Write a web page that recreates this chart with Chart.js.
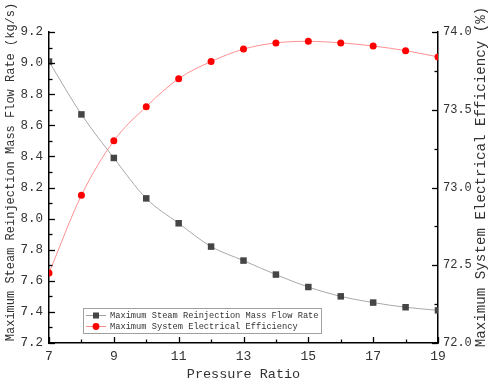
<!DOCTYPE html>
<html>
<head>
<meta charset="utf-8">
<script src="https://cdn.jsdelivr.net/npm/chart.js@4/dist/chart.umd.min.js"></script>
<style>
  html, body { margin: 0; padding: 0; background: #fff; }
  #wrap { width: 491px; height: 383px; position: relative; }
</style>
</head>
<body>
<div id="wrap"><canvas id="c" width="491" height="383"></canvas></div>
<script>
const pressureRatio = [7, 8, 9, 10, 11, 12, 13, 14, 15, 16, 17, 18, 19];
const steamFlow = [9.01, 8.67, 8.39, 8.13, 7.97, 7.82, 7.73, 7.64, 7.56, 7.50, 7.46, 7.43, 7.41];
const efficiency = [72.45, 72.95, 73.30, 73.52, 73.70, 73.81, 73.89, 73.93, 73.94, 73.93, 73.91, 73.88, 73.84];
const steamLabel = 'Maximum Steam Reinjection Mass Flow Rate';
const effLabel = 'Maximum System Electrical Efficiency';
const leftTitle = 'Maximum Steam Reinjection Mass Flow Rate (kg/s)';
const rightTitle = 'Maximum System Electrical Efficiency (%)';
const xTitle = 'Pressure Ratio';

const FONT = "'Liberation Mono', 'DejaVu Sans Mono', monospace";
const TXT = '#333333';

const inwardTicks = {
  id: 'inwardTicks',
  afterDatasetsDraw(chart) {
    const ctx = chart.ctx;
    const a = chart.chartArea;
    ctx.save();
    ctx.strokeStyle = '#000';
    ctx.lineWidth = 1.3;
    const drawFor = (scale, side) => {
      scale.ticks.forEach((t) => {
        const major = t.label !== '' && t.label != null;
        const len = major ? 6 : 3.5;
        const p = Math.round(scale.getPixelForValue(t.value)) + 0.5;
        ctx.beginPath();
        if (side === 'bottom') { ctx.moveTo(p, a.bottom); ctx.lineTo(p, a.bottom - len); }
        else if (side === 'left') { ctx.moveTo(a.left, p); ctx.lineTo(a.left + len, p); }
        else { ctx.moveTo(a.right, p); ctx.lineTo(a.right - len, p); }
        ctx.stroke();
      });
    };
    drawFor(chart.scales.x, 'bottom');
    drawFor(chart.scales.y, 'left');
    drawFor(chart.scales.y2, 'right');
    ctx.restore();
  },
  afterDraw(chart) {
    const ctx = chart.ctx;
    const a = chart.chartArea;
    const vTitle = (text, x, y, size) => {
      ctx.save();
      ctx.fillStyle = TXT;
      ctx.font = size + "px " + FONT;
      ctx.textAlign = 'center';
      ctx.textBaseline = 'middle';
      ctx.translate(x, y);
      ctx.rotate(-Math.PI / 2);
      ctx.fillText(text, 0, 0);
      ctx.restore();
    };
    vTitle(leftTitle, 11, 172, 12);
    vTitle(rightTitle, 481, 177, 14.2);

    ctx.save();
    const lx = a.left + 34, ly = a.top + 276, lw = 238, lh = 25;
    ctx.fillStyle = '#fff';
    ctx.fillRect(lx, ly, lw, lh);
    ctx.strokeStyle = '#a0a0a0';
    ctx.lineWidth = 1;
    ctx.strokeRect(lx + 0.5, ly + 0.5, lw, lh);
    const rows = [
      { label: steamLabel, line: '#a0a0a0', color: '#454545', shape: 'rect', y: ly + 7.5 },
      { label: effLabel, line: '#ff8c8c', color: '#ff0000', shape: 'circle', y: ly + 18.5 }
    ];
    rows.forEach((r) => {
      ctx.strokeStyle = r.line;
      ctx.lineWidth = 1;
      ctx.beginPath();
      ctx.moveTo(lx + 3, r.y);
      ctx.lineTo(lx + 23, r.y);
      ctx.stroke();
      ctx.fillStyle = r.color;
      if (r.shape === 'rect') {
        ctx.fillRect(lx + 13 - 3, r.y - 3, 6, 6);
      } else {
        ctx.beginPath();
        ctx.arc(lx + 13, r.y, 3.4, 0, Math.PI * 2);
        ctx.fill();
      }
      ctx.fillStyle = TXT;
      ctx.font = "8.7px " + FONT;
      ctx.textAlign = 'left';
      ctx.textBaseline = 'middle';
      ctx.fillText(r.label, lx + 27, r.y + 0.5);
    });
    ctx.restore();
  }
};

new Chart(document.getElementById('c'), {
  type: 'line',
  data: {
    datasets: [
      {
        label: steamLabel,
        data: pressureRatio.map((x, i) => ({ x: x, y: steamFlow[i] })),
        yAxisID: 'y',
        borderColor: '#a8a8a8',
        borderWidth: 1,
        backgroundColor: '#454545',
        pointBackgroundColor: '#454545',
        pointBorderColor: '#454545',
        pointBorderWidth: 0,
        pointStyle: 'rect',
        pointRadius: 4.6,
        tension: 0.4,
        cubicInterpolationMode: 'monotone'
      },
      {
        label: effLabel,
        data: pressureRatio.map((x, i) => ({ x: x, y: efficiency[i] })),
        yAxisID: 'y2',
        borderColor: '#ff9090',
        borderWidth: 1,
        backgroundColor: '#ff0000',
        pointBackgroundColor: '#ff0000',
        pointBorderColor: '#ff0000',
        pointBorderWidth: 0,
        pointStyle: 'circle',
        pointRadius: 3.5,
        tension: 0.4,
        cubicInterpolationMode: 'monotone'
      }
    ]
  },
  options: {
    responsive: false,
    animation: false,
    devicePixelRatio: 1,
    layout: { padding: { top: 32, left: 0, right: 0, bottom: 0 } },
    plugins: { legend: { display: false }, tooltip: { enabled: false } },
    scales: {
      x: {
        type: 'linear',
        min: 7, max: 19,
        grid: { display: false, drawTicks: false },
        border: { display: true, color: '#000', width: 1.5 },
        ticks: {
          stepSize: 1,
          padding: 6,
          color: TXT,
          font: { family: FONT, size: 13 },
          maxRotation: 0,
          autoSkip: false,
          callback: (v) => (Math.round(v) % 2 === 1 ? String(Math.round(v)) : '')
        },
        title: {
          display: true, text: xTitle, color: TXT,
          font: { family: FONT, size: 13.5 },
          padding: { top: 0, bottom: 0 }
        },
        afterFit: (s) => { s.height = 40; }
      },
      y: {
        type: 'linear',
        position: 'left',
        min: 7.2, max: 9.2,
        grid: { display: false, drawTicks: false },
        border: { display: true, color: '#000', width: 1.5 },
        ticks: {
          stepSize: 0.1,
          padding: 6,
          color: TXT,
          font: { family: FONT, size: 12.5 },
          autoSkip: false,
          callback: (v) => (Math.round(v * 10) % 2 === 0 ? v.toFixed(1) : '')
        },
        title: { display: false },
        afterFit: (s) => { s.width = 49; }
      },
      y2: {
        type: 'linear',
        position: 'right',
        min: 72, max: 74,
        grid: { display: false, drawTicks: false },
        border: { display: true, color: '#000', width: 1.5 },
        ticks: {
          stepSize: 0.25,
          padding: 5,
          color: TXT,
          font: { family: FONT, size: 12 },
          autoSkip: false,
          callback: (v) => (Math.round(v * 100) % 50 === 0 ? v.toFixed(1) : '')
        },
        title: { display: false },
        afterFit: (s) => { s.width = 53; }
      }
    }
  },
  plugins: [inwardTicks]
});
</script>
</body>
</html>
